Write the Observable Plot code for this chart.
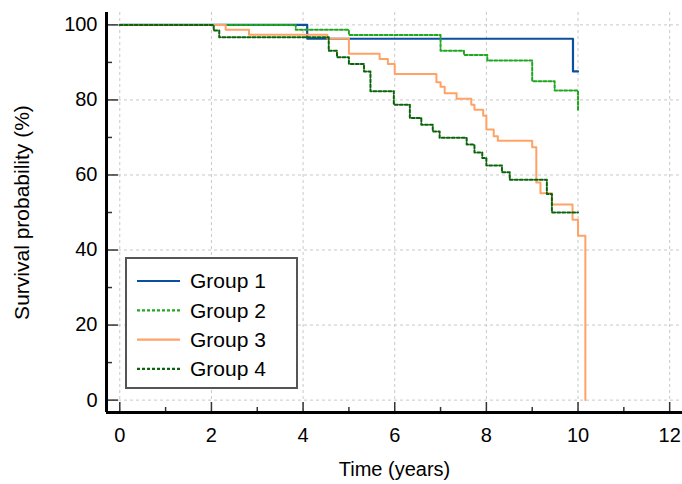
<!DOCTYPE html>
<html><head><meta charset="utf-8">
<script src="https://cdn.jsdelivr.net/npm/d3@7"></script>
<script src="https://cdn.jsdelivr.net/npm/@observablehq/plot@0.6"></script>
<style>
body{margin:0;background:#fff;font-family:"Liberation Sans",Arial,sans-serif;}
#wrap{position:relative;width:682px;height:484px;}
#legend{position:absolute;left:125px;top:257px;width:173px;height:132px;border:2px solid #555;background:#fff;box-sizing:border-box;}
</style></head><body><div id="wrap"></div>
<script>
// ---- data ----
const groups = ["Group 1", "Group 2", "Group 3", "Group 4"];
const colors = ["#0b50a0", "#1fa81f", "#ffa266", "#0a640a"];
const dashes = [null, "3,2", null, "3,2"];

const g1Time = [0, 4.09, 9.89, 10.0];
const g1Surv = [100, 96.3, 87.6, 87.6];

const g2Time = [0, 3.84, 5.0, 7.0, 7.51, 8.02, 9.0, 9.49, 10.0];
const g2Surv = [100, 98.7, 97.3, 93.1, 92.0, 90.5, 85.0, 82.5, 77.4];

const g3Time = [0, 2.31, 2.82, 4.53, 5.0, 5.67, 5.85, 6.0, 6.91, 7.0, 7.09, 7.35, 7.67, 7.74, 7.93, 8.0, 8.16, 8.25, 9.0, 9.09, 9.18, 9.43, 9.88, 10.0, 10.16];
const g3Surv = [100, 98.7, 97.4, 96.3, 92.3, 90.9, 89.6, 86.9, 84.7, 83.5, 81.8, 80.3, 78.7, 77.4, 75.8, 72.1, 70.3, 69.1, 67.4, 58.0, 55.1, 52.1, 48.1, 43.8, 0];

const g4Time = [0, 2.05, 2.17, 4.56, 4.74, 5.0, 5.33, 5.47, 5.98, 6.33, 6.58, 6.83, 6.98, 7.57, 7.74, 7.91, 8.0, 8.34, 8.51, 9.32, 9.43, 10.0];
const g4Surv = [100, 98.5, 96.7, 93.1, 91.4, 89.6, 87.6, 82.3, 78.7, 75.2, 73.4, 71.6, 69.9, 68.1, 66.0, 64.5, 62.5, 60.7, 58.7, 54.9, 50.0, 50.0];

const xMajor = [0, 2, 4, 6, 8, 10, 12];
const xMinor = [1, 3, 5, 7, 9, 11];
const yMajor = [0, 20, 40, 60, 80, 100];
const yMinor = [10, 30, 50, 70, 90];
const xDomain = [-0.29, 12.28];
const yDomain = [-3.3, 103.3];
const xTitle = "Time (years)";
const yTitle = "Survival probability (%)";

const series = [[g1Time, g1Surv], [g2Time, g2Surv], [g3Time, g3Surv], [g4Time, g4Surv]]
  .map(([t, s], i) => t.map((v, j) => ({group: groups[i], t: v, s: s[j]})));

const lineMarks = series.map((d, i) => Plot.line(d, {
  x: "t", y: "s", curve: "step-after", stroke: colors[i],
  strokeWidth: i === 0 ? 2.2 : 2, strokeDasharray: dashes[i]
}));

const chart = Plot.plot({
  width: 682, height: 484,
  marginLeft: 106, marginRight: 0, marginTop: 12, marginBottom: 72,
  style: {fontFamily: '"Liberation Sans", Arial, sans-serif', fontSize: "20px", color: "#000", background: "#fff"},
  x: {domain: xDomain},
  y: {domain: yDomain},
  marks: [
    Plot.gridX(xMajor, {stroke: "#c8c8c8", strokeOpacity: 1, strokeDasharray: "3,3"}),
    Plot.gridY(yMajor, {stroke: "#c8c8c8", strokeOpacity: 1, strokeDasharray: "3,3"}),
    ...lineMarks,
    Plot.axisX({ticks: xMajor, tickSize: -10, tickPadding: 25, stroke: "#333", strokeWidth: 1.5, label: null, fontSize: 20}),
    Plot.axisX({ticks: xMinor, tickSize: -5, text: null, stroke: "#333", strokeWidth: 1.5, label: null}),
    Plot.axisY({ticks: yMajor, tickSize: -12, tickPadding: 21, stroke: "#333", strokeWidth: 1.5, label: null, fontSize: 20}),
    Plot.axisY({ticks: yMinor, tickSize: -6, text: null, stroke: "#333", strokeWidth: 1.5, label: null}),
    Plot.ruleX([xDomain[0]], {stroke: "#000", strokeWidth: 3}),
    Plot.ruleY([yDomain[0]], {stroke: "#000", strokeWidth: 3}),
    Plot.text([xTitle], {frameAnchor: "bottom", textAnchor: "middle", lineAnchor: "middle", dy: 57, fontSize: 20}),
    Plot.text([yTitle], {frameAnchor: "left", textAnchor: "middle", lineAnchor: "middle", rotate: -90, dx: -84, fontSize: 21})
  ]
});
const wrap = document.getElementById("wrap");
wrap.appendChild(chart);

// legend (HTML overlay box with small SVG)
const leg = document.createElement("div");
leg.id = "legend";
wrap.appendChild(leg);
const ls = d3.select(leg).append("svg").attr("width", 169).attr("height", 128)
  .style("font-family", '"Liberation Sans", Arial, sans-serif').style("font-size", "21px");
groups.forEach((g, i) => {
  const y = 22 + i * 29.3;
  ls.append("line").attr("x1", 10).attr("x2", 53).attr("y1", y).attr("y2", y)
    .attr("stroke", colors[i]).attr("stroke-width", 2.2)
    .attr("stroke-dasharray", dashes[i] || null);
  ls.append("text").attr("x", 63).attr("y", y).attr("dy", "0.35em").text(g);
});
</script>
</body></html>
